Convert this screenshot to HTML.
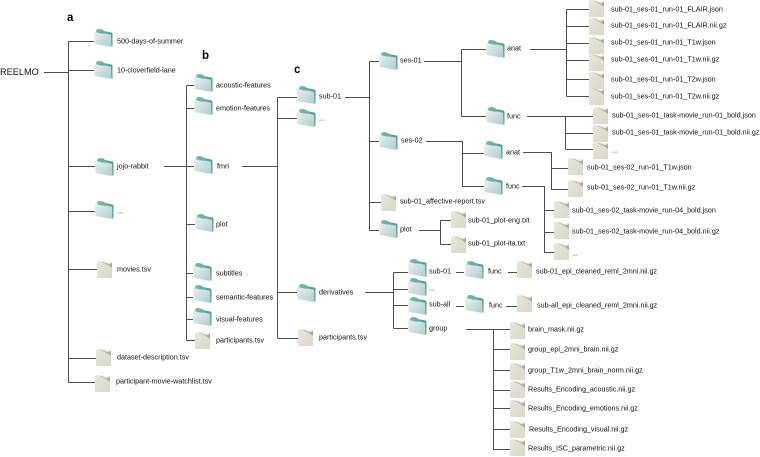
<!DOCTYPE html>
<html><head><meta charset="utf-8"><style>
html,body{margin:0;padding:0;background:#fff}
svg{display:block;filter:blur(.3px)}
text{font-family:"Liberation Sans",sans-serif;font-size:7.2px;fill:#111;dominant-baseline:central}
.h{font-size:11.5px;font-weight:bold;fill:#000}
</style></head><body>
<svg width="760" height="457" viewBox="0 0 760 457" xmlns="http://www.w3.org/2000/svg">
<defs>
<linearGradient id="fg" x1="0" y1="0" x2="1" y2="1"><stop offset="0" stop-color="#e8f1f1"/><stop offset="1" stop-color="#b0cbcd"/></linearGradient>
<linearGradient id="tg" x1="0" y1="0" x2="1" y2="0"><stop offset="0" stop-color="#7fb9ae"/><stop offset="1" stop-color="#4f9c90"/></linearGradient>
<linearGradient id="dg" x1="0" y1="0" x2="1" y2="1"><stop offset="0" stop-color="#e8e6db"/><stop offset="1" stop-color="#d9d7c8"/></linearGradient>
<symbol id="F" width="19" height="19" viewBox="0 0 19 19" overflow="visible">
<path d="M1.5 4 L2.5 1 Q3 0 5 0 L8 .5 Q9.5 1 10 2 L17.5 3.5 Q18.5 4 18.5 5 L18.5 17.5 L1.5 14Z" fill="url(#tg)"/>
<path d="M0 2.8 L5 4 Q8 5 11 4.5 L17 5.8 L17.5 18 L.7 15Z" fill="url(#fg)"/>
</symbol>
<symbol id="D" width="16" height="18" viewBox="0 0 16 18" overflow="visible">
<path d="M0 .5 L7 .5 Q10 3 15 1 L15 17 L0 17Z" fill="url(#dg)"/>
<path d="M2 0 Q7 1 10.5 3 Q13 4.2 15 1.5 L15 7 Q13 5 9 3 Q5 1 2 0Z" fill="#aaa89a"/>
</symbol>
</defs>
<g stroke="#4d4d4d" stroke-width="1" fill="none">
<path d="M44 72.5H68.5M68.5 41.5V382.5M68.5 41.5H94M68.5 70.5H94M68.5 166.5H95M68.5 211.5H95M68.5 269.5H97M68.5 358.5H96M68.5 382.5H95"/>
<path d="M164 166.5H194M186.5 85.5V340.5M186.5 85.5H194M186.5 108.5H194M186.5 224.5H195M186.5 273.5H193M186.5 297.5H193M186.5 319.5H193M186.5 340.5H195"/>
<path d="M242 166.5H277.5M277.5 97.5V338.5M277.5 97.5H297M277.5 118.5H297M277.5 292.5H297M277.5 338.5H298"/>
<path d="M345 97.5H369.5M369.5 61.5V230.5M369.5 61.5H379M369.5 141.5H379M369.5 202.5H381M369.5 230.5H379"/>
<path d="M424 61.5H461.5M461.5 49.5V116.5M461.5 49.5H486M461.5 116.5H486"/>
<path d="M426 141.5H462.5V186.5H484M462.5 153.5H484"/>
<path d="M530 49.5H566.5M566.5 9.5V96.5M566.5 9.5H589M566.5 26.5H589M566.5 43.5H589M566.5 60.5H589M566.5 79.5H589M566.5 96.5H589"/>
<path d="M527 116.5H565.5M565.5 116.5V149.5M565.5 116.5H593M565.5 133.5H593M565.5 149.5H593"/>
<path d="M523 152.5H551.5V189.5H568M551.5 168.5H568"/>
<path d="M522 186.5H544.5V252.5H554M544.5 210.5H554M544.5 232.5H554"/>
<path d="M419 230.5H440.5M440.5 220.5V244.5M440.5 220.5H451M440.5 244.5H451"/>
<path d="M365 292.5H393.5M393.5 272.5V328.5M393.5 272.5H408M393.5 289.5H408M393.5 305.5H408M393.5 328.5H408"/>
<path d="M456 272.5H464M456 306.5H464M508 272.5H517M506 306.5H517"/>
<path d="M466 329.5H493.5V449.5H510M493.5 329.5H510M493.5 349.5H510M493.5 370.5H510M493.5 390.5H510M493.5 408.5H510M493.5 429.5H510"/>
</g>
<!-- folders -->
<use href="#F" x="94" y="29"/><use href="#F" x="94" y="61"/><use href="#F" x="95" y="158"/><use href="#F" x="95" y="201"/>
<use href="#F" x="194" y="74"/><use href="#F" x="194" y="97"/><use href="#F" x="194" y="156"/><use href="#F" x="195" y="214"/><use href="#F" x="193" y="263"/><use href="#F" x="193" y="285"/><use href="#F" x="193" y="308"/>
<use href="#F" x="297" y="86"/><use href="#F" x="297" y="109"/><use href="#F" x="297" y="284"/>
<use href="#F" x="379" y="52"/><use href="#F" x="379" y="132"/><use href="#F" x="379" y="220"/>
<use href="#F" x="486" y="40"/><use href="#F" x="486" y="107"/><use href="#F" x="484" y="141"/><use href="#F" x="484" y="177"/>
<use href="#F" x="408" y="259"/><use href="#F" x="408" y="278"/><use href="#F" x="408" y="297"/><use href="#F" x="408" y="317"/>
<use href="#F" x="465" y="261"/><use href="#F" x="465" y="295"/>
<!-- files -->
<use href="#D" x="97" y="261"/><use href="#D" x="96" y="349"/><use href="#D" x="95" y="375"/><use href="#D" x="195" y="332"/>
<use href="#D" x="298" y="329"/><use href="#D" x="381" y="194"/><use href="#D" x="451" y="211"/><use href="#D" x="451" y="236"/>
<use href="#D" x="589" y="0"/><use href="#D" x="589" y="18"/><use href="#D" x="589" y="37"/><use href="#D" x="589" y="54"/><use href="#D" x="589" y="72"/><use href="#D" x="589" y="88"/>
<use href="#D" x="593" y="107"/><use href="#D" x="593" y="125"/><use href="#D" x="593" y="142"/>
<use href="#D" x="568" y="158"/><use href="#D" x="568" y="180"/>
<use href="#D" x="554" y="201"/><use href="#D" x="554" y="222"/><use href="#D" x="554" y="243"/>
<use href="#D" x="517" y="261"/><use href="#D" x="517" y="295"/>
<use href="#D" x="510" y="322"/><use href="#D" x="510" y="343"/><use href="#D" x="510" y="363"/><use href="#D" x="510" y="381"/><use href="#D" x="510" y="400"/><use href="#D" x="510" y="421"/><use href="#D" x="510" y="439"/>
<!-- labels -->
<text x="0" y="72" style="font-size:9.2px">REELMO</text>
<text class="h" x="67" y="18">a</text><text class="h" x="202" y="56">b</text><text class="h" x="294" y="70">c</text>
<text x="117" y="41">500-days-of-summer</text><text x="117" y="70">10-cloverfield-lane</text><text x="117" y="166">jojo-rabbit</text><text x="117" y="211">...</text><text x="117" y="269">movies.tsv</text><text x="117" y="357">dataset-description.tsv</text><text x="116" y="381">participant-movie-watchlist.tsv</text>
<text x="216" y="85">acoustic-features</text><text x="216" y="108">emotion-features</text><text x="217" y="166">fmri</text><text x="216" y="224">plot</text><text x="216" y="273">subtitles</text><text x="216" y="297">semantic-features</text><text x="216" y="319">visual-features</text><text x="216" y="340">participants.tsv</text>
<text x="319" y="96">sub-01</text><text x="319" y="118">...</text><text x="319" y="292">derivatives</text><text x="319" y="337">participants.tsv</text>
<text x="400" y="60">ses-01</text><text x="401" y="140">ses-02</text><text x="400" y="201">sub-01_affective-report.tsv</text><text x="400" y="229">plot</text>
<text x="507" y="48">anat</text><text x="507" y="116">func</text><text x="506" y="152">anat</text><text x="506" y="186">func</text>
<text x="468" y="220">sub-01_plot-eng.txt</text><text x="468" y="243">sub-01_plot-ita.txt</text>
<text x="611" y="9">sub-01_ses-01_run-01_FLAIR.json</text><text x="611" y="25">sub-01_ses-01_run-01_FLAIR.nii.gz</text><text x="611" y="42">sub-01_ses-01_run-01_T1w.json</text><text x="611" y="59">sub-01_ses-01_run-01_T1w.nii.gz</text><text x="611" y="79">sub-01_ses-01_run-01_T2w.json</text><text x="611" y="96">sub-01_ses-01_run-01_T2w.nii.gz</text>
<text x="612" y="115">sub-01_ses-01_task-movie_run-01_bold.json</text><text x="612" y="132">sub-01_ses-01_task-movie_run-01_bold.nii.gz</text><text x="612" y="150">...</text>
<text x="587" y="167">sub-01_ses-02_run-01_T1w.json</text><text x="587" y="187">sub-01_ses-02_run-01_T1w.nii.gz</text>
<text x="572" y="210">sub-01_ses-02_task-movie_run-04_bold.json</text><text x="572" y="231">sub-01_ses-02_task-movie_run-04_bold.nii.gz</text><text x="572" y="253">...</text>
<text x="429" y="271">sub-01</text><text x="429" y="288">...</text><text x="429" y="304">sub-all</text><text x="429" y="328">group</text>
<text x="488" y="271">func</text><text x="489" y="305">func</text>
<text x="536" y="271">sub-01_epi_cleaned_reml_2mni.nii.gz</text><text x="537" y="305">sub-all_epi_cleaned_reml_2mni.nii.gz</text>
<text x="528" y="329">brain_mask.nii.gz</text><text x="528" y="349">group_epi_2mni_brain.nii.gz</text><text x="528" y="370">group_T1w_2mni_brain_norm.nii.gz</text><text x="528" y="389">Results_Encoding_acoustic.nii.gz</text><text x="528" y="408">Results_Encoding_emotions.nii.gz</text><text x="529" y="429">Results_Encoding_visual.nii.gz</text><text x="528" y="448">Results_ISC_parametric.nii.gz</text>
</svg>
</body></html>
